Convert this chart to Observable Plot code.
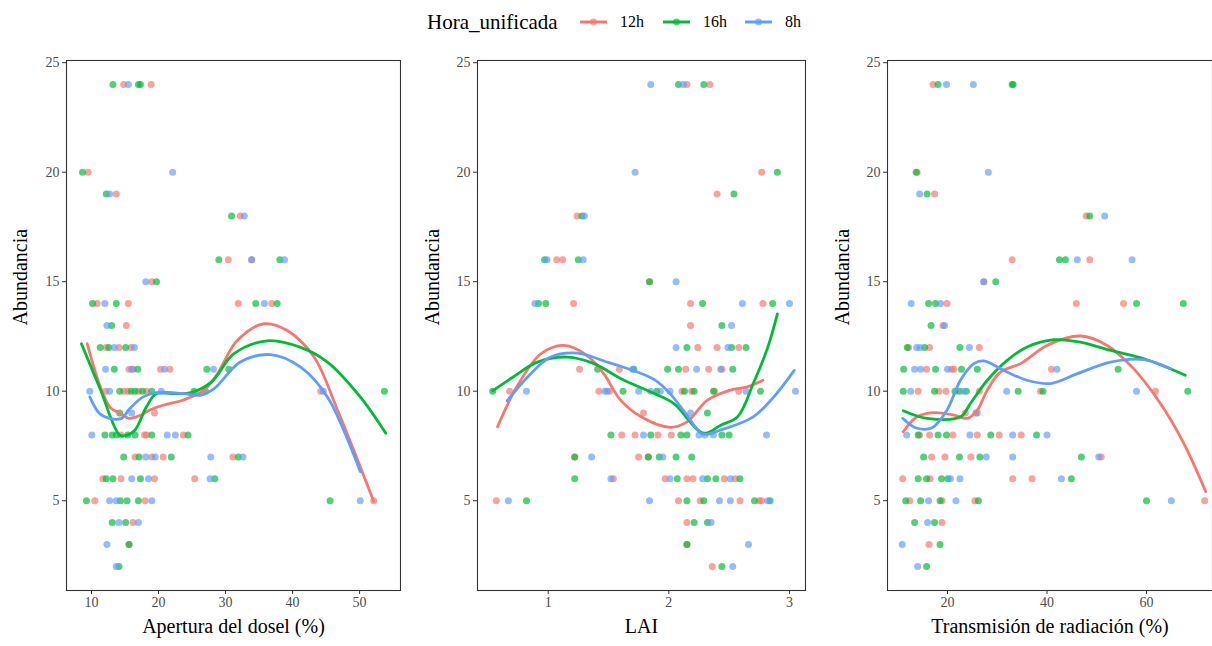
<!DOCTYPE html>
<html><head><meta charset="utf-8">
<script src="https://cdn.jsdelivr.net/npm/d3@7"></script>
<script src="https://cdn.jsdelivr.net/npm/@observablehq/plot@0.6"></script>
<style>
body{margin:0;background:#fff;font-family:"Liberation Serif","Times New Roman",serif;}
#wrap{position:relative;width:1212px;height:646px;overflow:hidden;background:#fff;}
#legend{position:absolute;left:0;top:0;width:1212px;height:44px;}
.lg{position:absolute;top:22px;transform:translateY(-50%);white-space:nowrap;color:#000;}
.panel{position:absolute;top:40px;}
</style></head><body>
<div id="wrap"><div id="legend"></div></div>
<script>
// ---------- categories / styling ----------
const groups = ["12h", "16h", "8h"];
const groupColors = ["#F8766D", "#00BA38", "#619CFF"];
const legendTitle = "Hora_unificada";
const yLabel = "Abundancia";
const yTicks = [5, 10, 15, 20, 25];

// ---------- Panel 1: Apertura del dosel (%) — points [x, abundancia] ----------
const apertura_12h = [[14.8,24],[18.9,24],[9.5,20],[13.7,19],[32.2,18],[30.4,16],[33.9,16],[19.0,15],
  [10.85,14],[15.5,14],[31.9,14],[36.9,14],[15.2,13],[12.2,12],[14.1,12],[15.9,12],
  [15.6,11],[16.2,11],[20.3,11],[21.7,11],[12.1,10],[14.8,10],[15.4,10],[17.0,10],[18.2,10],[44.2,10],
  [19.4,9],[14.4,8],[17.9,8],[18.2,8],[23.7,8],[16.5,7],[19.0,7],[20.7,7],[31.1,7],
  [11.7,6],[14.4,6],[19.4,6],[25.4,6],[10.5,5],[18.0,5],[52.1,5],[16.2,4],[15.6,3]];
const apertura_16h = [[13.2,24],[17.0,24],[17.3,24],[8.66,20],[12.2,19],[30.9,18],[29.0,16],[38.1,16],[19.7,15],
  [10.15,14],[13.7,14],[34.5,14],[37.7,14],[13.0,13],[11.3,12],[12.6,12],[15.1,12],
  [13.4,11],[16.9,11],[27.2,11],[30.5,11],[14.2,10],[15.9,10],[16.5,10],[17.6,10],[19.0,10],[25.3,10],[27.0,10],[53.7,10],
  [14.2,9],[12.0,8],[13.1,8],[13.7,8],[15.4,8],[16.5,8],[19.0,8],[24.4,8],
  [14.8,7],[17.1,7],[21.9,7],[31.9,7],[12.2,6],[13.2,6],[17.3,6],[28.4,6],
  [9.25,5],[14.3,5],[15.3,5],[17.0,5],[45.6,5],[13.1,4],[15.1,4],[15.6,3],[14.1,2]];
const apertura_8h = [[15.5,24],[22.1,20],[12.7,19],[32.8,18],[33.9,16],[38.8,16],[18.1,15],
  [12.0,14],[35.8,14],[12.3,13],[13.4,12],[16.4,12],[12.1,11],[16.0,11],[20.9,11],[28.2,11],
  [9.75,10],[12.7,10],[20.4,10],[44.6,10],[16.0,9],[10.05,8],[21.3,8],[22.5,8],
  [18.1,7],[19.5,7],[27.8,7],[32.6,7],[16.0,6],[18.5,6],[27.7,6],
  [12.7,5],[13.7,5],[19.0,5],[50.1,5],[14.1,4],[17.0,4],[12.3,3],[13.7,2]];
// smooth (loess) curves
const apertura_fit_12h = [[9.36,12.17],[11.2,10.3],[12.8,9.25],[14.2,9.0],[15.6,8.76],[17.3,8.9],[18.7,9.14],[20.7,9.36],[23.7,9.6],[26.8,10.05],[28.8,10.8],[31.7,12.3],[35.7,13.08],[39.2,12.77],[43.2,11.56],[46.7,9.14],[52.1,4.97]];
const apertura_fit_16h = [[8.5,12.17],[11.3,10.1],[14.2,8.0],[15.2,7.98],[16.5,8.23],[18.2,9.29],[19.7,9.89],[22.0,9.89],[25.0,9.95],[28.0,10.45],[31.2,11.7],[36.2,12.3],[41.2,12.0],[45.2,11.33],[50.1,9.74],[53.9,8.08]];
const apertura_fit_8h = [[9.75,9.74],[11.2,8.98],[12.7,8.76],[14.5,8.76],[15.7,9.2],[17.7,9.74],[19.7,9.94],[23.7,9.89],[26.3,9.82],[28.3,10.12],[32.2,11.33],[36.7,11.67],[41.2,11.1],[45.2,9.74],[50.1,6.33]];

// ---------- Panel 2: LAI ----------
const lai_12h = [[2.15,24],[2.34,24],[2.77,20],[2.40,19],[1.24,18],[1.07,16],[1.12,16],[1.84,15],
  [1.21,14],[2.18,14],[2.78,14],[2.18,13],[2.24,12],[2.40,12],[2.58,12],
  [1.26,11],[1.59,11],[2.14,11],[2.33,11],[2.44,11],[0.68,10],[1.42,10],[1.51,10],[2.11,10],[2.19,10],[2.38,10],[2.58,10],
  [1.79,9],[1.61,8],[1.72,8],[1.91,8],[2.02,8],[1.22,7],[1.75,7],[1.83,7],
  [1.54,6],[1.97,6],[2.15,6],[2.20,6],[2.46,6],[2.55,6],[0.57,5],[2.08,5],[2.26,5],[2.59,5],[2.75,5],[2.77,5],
  [2.15,4],[2.15,3],[2.36,2]];
const lai_16h = [[2.08,24],[2.29,24],[2.90,20],[2.54,19],[1.28,18],[0.97,16],[1.25,16],[1.84,15],
  [0.92,14],[0.98,14],[2.28,14],[2.86,14],[2.44,13],[2.15,12],[2.52,12],[2.64,12],
  [1.41,11],[1.71,11],[1.99,11],[2.08,11],[2.53,11],[0.54,10],[1.62,10],[1.90,10],[2.13,10],[2.21,10],[2.37,10],[2.76,10],
  [2.32,9],[1.52,8],[1.85,8],[2.10,8],[2.15,8],[2.44,8],[2.50,8],[1.22,7],[1.83,7],[1.92,7],[2.06,7],[2.19,7],
  [1.22,6],[2.07,6],[2.32,6],[2.39,6],[2.59,6],[0.82,5],[2.15,5],[2.29,5],[2.71,5],[2.84,5],
  [2.21,4],[2.32,4],[2.15,3],[2.44,2]];
const lai_8h = [[1.85,24],[2.12,24],[1.72,20],[1.30,18],[0.99,16],[1.29,16],[2.06,15],
  [0.89,14],[2.61,14],[3.00,14],[2.52,13],[2.06,12],[2.49,12],[1.70,11],[2.23,11],[2.43,11],
  [0.82,10],[1.47,10],[1.49,10],[1.75,10],[1.85,10],[1.93,10],[2.01,10],[2.64,10],[3.05,10],
  [2.18,9],[1.79,8],[2.25,8],[2.30,8],[2.37,8],[2.81,8],[1.36,7],[1.95,7],
  [1.52,6],[2.01,6],[2.28,6],[2.51,6],[0.67,5],[1.84,5],[2.42,5],[2.51,5],[2.82,5],
  [2.35,4],[2.66,3],[2.53,2]];
const lai_fit_12h = [[0.58,8.38],[0.74,10.2],[0.94,11.71],[1.13,12.09],[1.32,11.64],[1.46,10.8],[1.60,9.59],[1.77,8.83],[2.01,8.35],[2.15,8.6],[2.32,9.59],[2.51,10.05],[2.65,10.2],[2.78,10.5]];
const lai_fit_16h = [[0.54,10.02],[0.71,10.65],[0.91,11.33],[1.16,11.56],[1.38,11.26],[1.60,10.58],[1.88,9.89],[2.04,9.44],[2.29,8.08],[2.43,8.45],[2.57,8.83],[2.70,10.35],[2.82,12.0],[2.90,13.53]];
const lai_fit_8h = [[0.66,9.56],[0.83,10.65],[1.02,11.56],[1.24,11.74],[1.49,11.33],[1.60,11.14],[1.88,10.53],[2.01,9.89],[2.15,8.91],[2.28,8.05],[2.43,8.23],[2.70,8.83],[2.87,9.74],[3.04,10.95]];

// ---------- Panel 3: Transmisión de radiación (%) ----------
const trans_12h = [[17.1,24],[13.9,20],[17.4,19],[47.9,18],[33.0,16],[48.6,16],[27.3,15],
  [19.9,14],[45.9,14],[55.4,14],[19.1,13],[12.2,12],[16.4,12],[26.4,12],
  [15.8,11],[20.8,11],[21.3,11],[40.9,11],[14.1,10],[18.3,10],[19.7,10],[26.4,10],[38.7,10],[61.8,10],
  [23.6,9],[26.0,9],[14.4,8],[16.4,8],[21.1,8],[26.0,8],[30.4,8],[34.8,8],
  [16.8,7],[19.5,7],[24.7,7],[50.9,7],[11.0,6],[16.5,6],[33.1,6],[37.0,6],
  [12.4,5],[18.9,5],[25.5,5],[71.7,5],[18.9,4],[16.3,3]];
const trans_16h = [[18.1,24],[33.0,24],[33.2,24],[13.7,20],[15.9,19],[48.6,18],[42.5,16],[43.7,16],[29.7,15],
  [16.2,14],[17.6,14],[58.0,14],[67.4,14],[16.7,13],[11.9,12],[15.4,12],[22.5,12],
  [11.2,11],[17.6,11],[22.8,11],[26.0,11],[54.3,11],[11.1,10],[17.4,10],[21.5,10],[22.4,10],[23.8,10],[34.2,10],[39.2,10],[68.3,10],
  [14.1,8],[18.1,8],[19.8,8],[28.7,8],[37.9,8],[15.2,7],[22.4,7],[26.5,7],[46.9,7],
  [14.1,6],[15.8,6],[18.8,6],[20.1,6],[44.9,6],[11.6,5],[14.6,5],[18.5,5],[26.2,5],[60.0,5],
  [13.4,4],[17.4,4],[18.5,3],[15.8,2]];
const trans_8h = [[19.8,24],[25.2,24],[28.2,20],[14.4,19],[51.6,18],[46.1,16],[57.1,16],[27.3,15],
  [12.7,14],[18.6,14],[19.4,13],[13.8,12],[14.5,12],[24.4,12],[13.4,11],[14.6,11],[20.0,11],[42.0,11],
  [12.6,10],[23.2,10],[31.9,10],[58.0,10],[25.7,9],[11.8,8],[24.5,8],[33.1,8],[40.0,8],
  [27.8,7],[33.1,7],[50.4,7],[20.6,6],[22.5,6],[42.9,6],[16.2,5],[21.7,5],[65.0,5],
  [16.0,4],[10.9,3],[14.0,2]];
const trans_fit_12h = [[11.1,8.15],[13.9,8.83],[17.2,9.02],[21.3,8.91],[24.0,8.76],[26.0,9.14],[28.0,10.05],[30.7,10.88],[34.7,11.26],[40.0,12.09],[46.7,12.52],[52.1,12.09],[57.4,11.03],[62.8,9.44],[67.5,7.62],[71.9,5.42]];
const trans_fit_16h = [[11.1,9.11],[15.9,8.76],[22.6,8.83],[24.6,9.44],[28.0,10.5],[32.0,11.41],[36.0,12.02],[41.4,12.35],[46.7,12.24],[52.8,11.86],[59.5,11.48],[67.8,10.73]];
const trans_fit_8h = [[11.0,8.76],[13.6,8.33],[16.9,8.33],[19.9,9.14],[22.6,10.5],[25.3,11.26],[27.3,11.38],[31.3,10.95],[36.0,10.5],[40.7,10.35],[46.1,10.8],[52.8,11.33],[59.5,11.44],[64.8,11.03]];

// ---------- axes ----------
const aperturaTicks = [10, 20, 30, 40, 50];
const laiTicks = [1, 2, 3];
const transTicks = [20, 40, 60];

const FONT = "'Liberation Serif', 'Times New Roman', serif";

function toRows(series) {
  const rows = [];
  series.forEach((arr, i) => arr.forEach(([x, y]) => rows.push({x, y, g: groups[i]})));
  return rows;
}

function makePanel(cfg) {
  const pts = toRows(cfg.points);
  const fits = toRows(cfg.fits);
  const chart = Plot.plot({
    width: cfg.width, height: 606,
    marginLeft: cfg.marginLeft, marginRight: cfg.marginRight, marginTop: 20, marginBottom: 56,
    style: {fontFamily: FONT, fontSize: "14px", background: "white", overflow: "visible"},
    x: {domain: cfg.xDomain},
    y: {domain: [0.9, 25.1]},
    color: {domain: groups, range: groupColors},
    marks: [
      Plot.dot(pts, {x: "x", y: "y", fill: "g", r: 3.5, fillOpacity: 0.68, stroke: null}),
      Plot.line(fits, {x: "x", y: "y", z: "g", stroke: "g", strokeWidth: 2.8, curve: "catmull-rom"}),
      Plot.frame({stroke: "#333", strokeWidth: 1.1}),
      Plot.axisX({ticks: cfg.xTicks, tickFormat: d => String(d), tickSize: 4, tickPadding: 3, label: null, color: "#4D4D4D", stroke: "#333", fontSize: 14}),
      Plot.axisY({ticks: yTicks, tickFormat: d => String(d), tickSize: 4, tickPadding: 3, label: null, color: "#4D4D4D", stroke: "#333", fontSize: 14}),
      Plot.text([cfg.xLabel], {text: d => d, frameAnchor: "bottom", dy: 42, fontSize: 20, fill: "black"}),
      Plot.text([yLabel], {text: d => d, frameAnchor: "left", rotate: -90, dx: cfg.yTitleDx, fontSize: 20, fill: "black"})
    ]
  });
  chart.classList.add("panel");
  chart.style.left = cfg.left + "px";
  document.getElementById("wrap").appendChild(chart);
}

makePanel({points: [apertura_12h, apertura_16h, apertura_8h], fits: [apertura_fit_12h, apertura_fit_16h, apertura_fit_8h],
  xDomain: [6.27, 56.1], xTicks: aperturaTicks, xLabel: "Apertura del dosel (%)",
  left: 0, width: 404, marginLeft: 66, marginRight: 4, yTitleDx: -46});
makePanel({points: [lai_12h, lai_16h, lai_8h], fits: [lai_fit_12h, lai_fit_16h, lai_fit_8h],
  xDomain: [0.414, 3.133], xTicks: laiTicks, xLabel: "LAI",
  left: 404, width: 404, marginLeft: 73, marginRight: 3, yTitleDx: -45});
makePanel({points: [trans_12h, trans_16h, trans_8h], fits: [trans_fit_12h, trans_fit_16h, trans_fit_8h],
  xDomain: [7.94, 73.27], xTicks: transTicks, xLabel: "Transmisión de radiación (%)",
  left: 808, width: 406, marginLeft: 79, marginRight: 2, yTitleDx: -45});

// ---------- legend ----------
const legend = document.getElementById("legend");
const t = document.createElement("div");
t.className = "lg"; t.textContent = legendTitle;
t.style.left = "427px"; t.style.fontSize = "21px";
legend.appendChild(t);
const keyX = [580, 663, 745];
const labX = [620, 703, 785];
groups.forEach((g, i) => {
  const s = document.createElementNS("http://www.w3.org/2000/svg", "svg");
  s.setAttribute("width", 27); s.setAttribute("height", 10);
  s.style.position = "absolute"; s.style.left = keyX[i] + "px"; s.style.top = "17px";
  s.innerHTML = `<line x1="0" x2="27" y1="5" y2="5" stroke="${groupColors[i]}" stroke-width="3"/>` +
    `<circle cx="13.5" cy="5" r="3.4" fill="${groupColors[i]}" fill-opacity="0.68"/>`;
  legend.appendChild(s);
  const l = document.createElement("div");
  l.className = "lg"; l.textContent = g;
  l.style.left = labX[i] + "px"; l.style.fontSize = "16px";
  legend.appendChild(l);
});
</script>
</body></html>
